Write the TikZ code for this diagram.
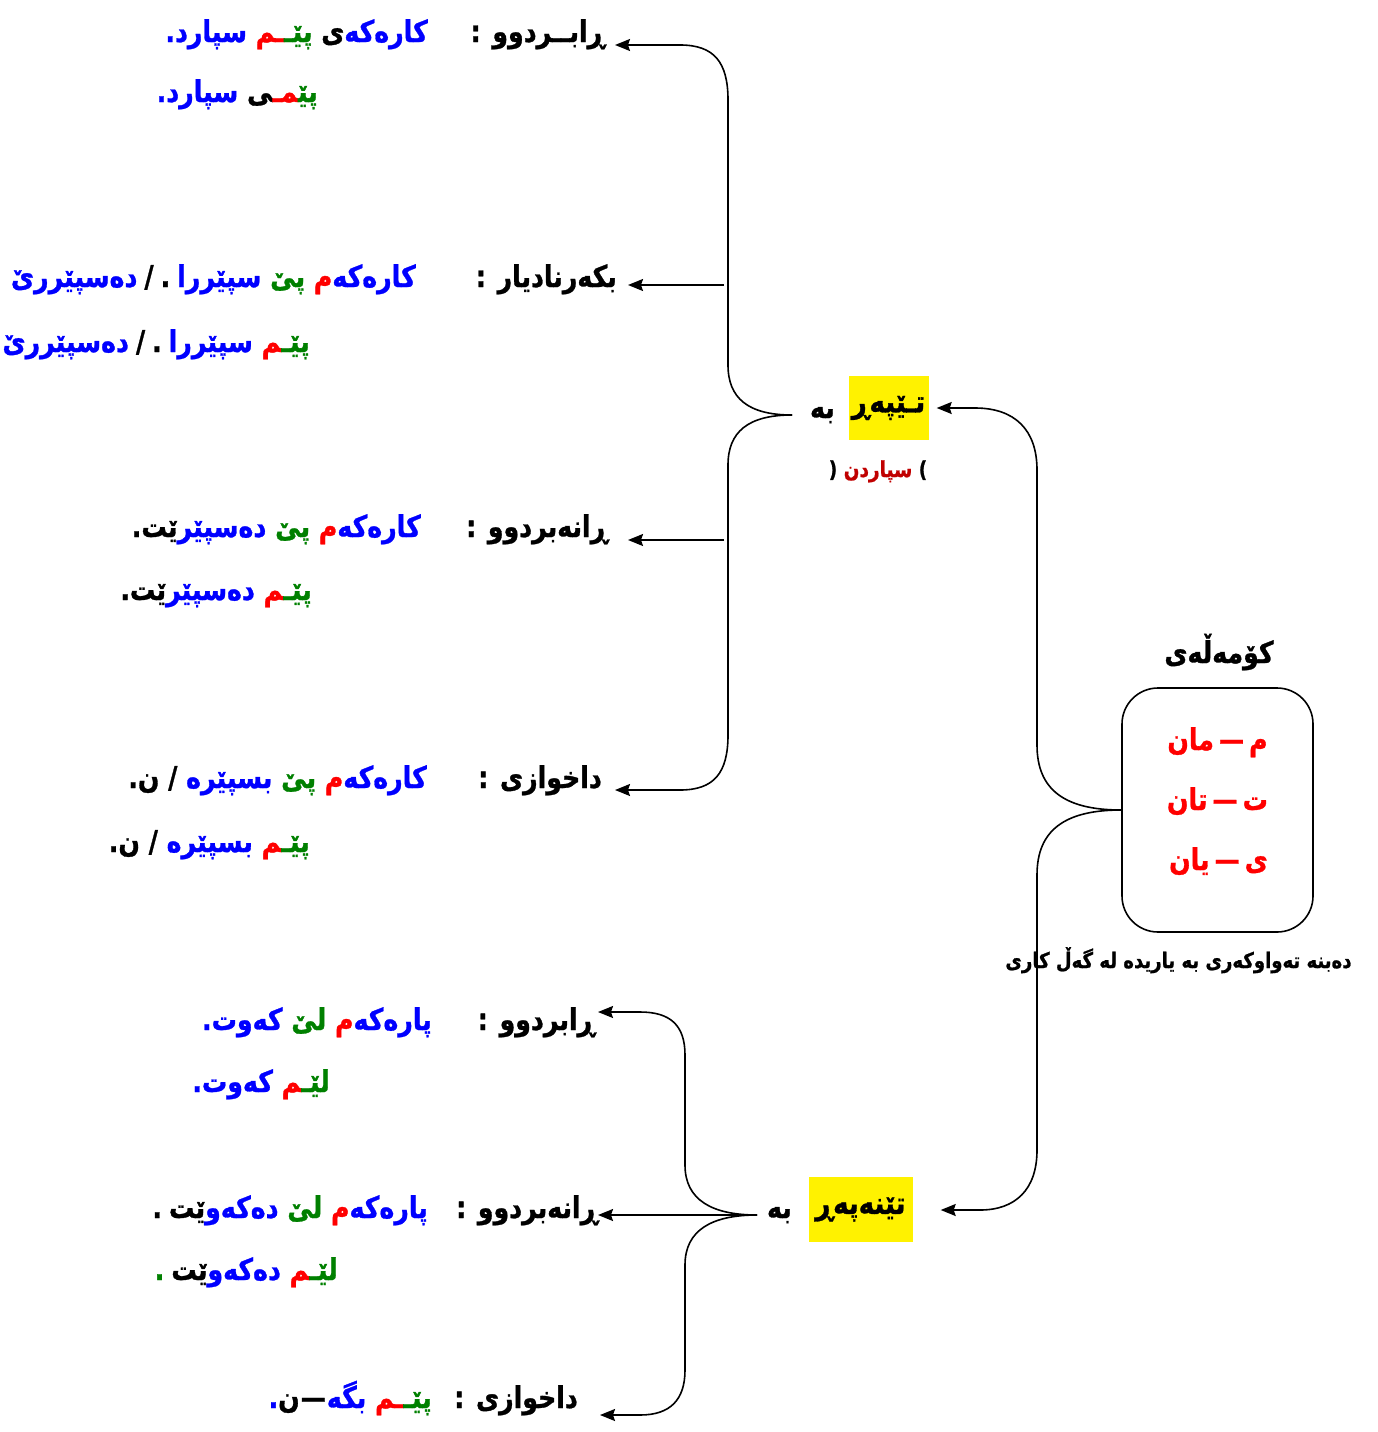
\documentclass[tikz,border=0pt]{standalone}
\usepackage{fontspec}
\usepackage{xcolor}
\usetikzlibrary{positioning,arrows.meta}
\newfontfamily\kur[Script=Arabic,FakeStretch=0.84,FakeBold=1]{DejaVu Sans}
\definecolor{kblue}{RGB}{0,0,255}
\definecolor{kgreen}{RGB}{0,128,0}
\definecolor{kred}{RGB}{255,0,0}
\definecolor{kdred}{RGB}{192,0,0}
\newcommand\Bl[1]{\textcolor{kblue}{#1}}
\newcommand\Gr[1]{\textcolor{kgreen}{#1}}
\newcommand\Rd[1]{\textcolor{kred}{#1}}
\newcommand\nq{.\kern0pt}
\newcommand\zj{^^^^200d}
\newcommand\sps{\hspace{7pt}}
\tikzset{
  lbl/.style={font=\kur\bfseries\fontsize{30}{32}\selectfont, anchor=base east, inner ysep=0pt},
  snt/.style={font=\kur\bfseries\fontsize{30}{32}\selectfont, anchor=base east, inner sep=0pt},
  hl/.style={fill=yellow, inner sep=0pt, font=\kur\bfseries\fontsize{31}{32}\selectfont},
  brc/.style={line width=1.6pt},
  arr/.style={line width=1.6pt, -{Stealth[inset=2pt,length=15pt,width=12pt]}},
}
\begin{document}
\begin{tikzpicture}[x=1pt,y=-1pt]
	\useasboundingbox (0,0) rectangle (1378,1432);
	% ripartizione superiore
	\node[hl, minimum width=80pt, minimum height=64pt] (vt) at (888.5,408) {تـێپەڕ};
	\node[snt] (beA) at (835,418) {بە};
	\node[font=\kur\bfseries\fontsize{22}{24}\selectfont, inner sep=0pt, anchor=base] (sp) at (878,477) {( \textcolor{kdred}{سپاردن} )};
	\node[lbl, inner xsep=10pt] (lab1) at (615,42) {: ڕابــردوو};
	\node[snt] (s1) at (428,42) {\Bl{\nq سپارد} \Rd{ـم}\Gr{پێـ} ی\Bl{کارەکە}};
	\node[snt] (s2) at (318,102) {\Bl{\nq سپارد} \zj ی\Rd{\zj مـ}\Gr{پێ\zj}};
	\node[lbl, inner xsep=11pt] (lab3) at (628,287) {: بکەرنادیار};
	\node[snt] (s3) at (416,287) {\Bl{دەسپێررێ}\sps/\sps.\sps\Bl{سپێررا} \Gr{پێ} \Rd{م}\Bl{کارەکە}};
	\node[snt] (s4) at (310,352) {\Bl{دەسپێررێ}\sps/\sps.\sps\Bl{سپێررا} \Rd{\zj م}\Gr{پێـ}};
	\node[lbl, inner xsep=20pt] (lab5) at (628,537) {: ڕانەبردوو};
	\node[snt] (s5) at (421,537) {\nq ێت\Bl{دەسپێر} \Gr{پێ} \Rd{م}\Bl{کارەکە}};
	\node[snt] (s6) at (312,600) {\nq ێت\Bl{دەسپێر} \Rd{\zj م}\Gr{پێـ}};
	\node[lbl, inner xsep=13pt] (lab7) at (615,788) {: داخوازی};
	\node[snt] (s7) at (427,788) {\nq ن / \Bl{بسپێرە} \Gr{پێ} \Rd{م}\Bl{کارەکە}};
	\node[snt] (s8) at (310,852) {\nq ن / \Bl{بسپێرە} \Rd{\zj م}\Gr{پێـ}};
	% ripartizione inferiore
	\node[hl, minimum width=104pt, minimum height=65pt] (vi) at (860.5,1209.5) {تێنەپەڕ};
	\node[snt] (beB) at (792,1218) {بە};
	\node[lbl, inner xsep=3pt] (lab9) at (598,1030) {: ڕابردوو};
	\node[snt] (s9) at (432,1030) {\Bl{\nq کەوت} \Gr{لێ} \Rd{م}\Bl{پارەکە}};
	\node[snt] (s10) at (330,1092) {\Bl{\nq کەوت} \Rd{\zj م}\Gr{لێـ}};
	\node[lbl, inner xsep=0pt] (lab11) at (598,1218) {: ڕانەبردوو};
	\node[snt] (s11) at (428,1218) {.\sps ێت\Bl{دەکەو} \Gr{لێ} \Rd{م}\Bl{پارەکە}};
	\node[snt] (s12) at (338,1280) {\Gr{.}\sps ێت\Bl{دەکەو} \Rd{\zj م}\Gr{لێـ}};
	\node[lbl, inner xsep=22pt] (lab13) at (600,1408) {: داخوازی};
	\node[snt] (s13) at (432,1408) {\Bl{.}ن\kern1pt—\kern1pt\Bl{بگە} \Rd{ـم}\Gr{پێـ}};
	% kۆمەڵەی
	\node[draw, line width=1.6pt, rounded corners=36pt, minimum width=191pt, minimum height=244pt] (box) at (1217.5,810) {};
	\node[snt, anchor=base] (ttl) at (1219,663) {کۆمەڵەی};
	\node[snt, anchor=base, text=kred] (m1) at (1217.5,750) {مان\,—\,م};
	\node[snt, anchor=base, text=kred] (m2) at (1217.5,810) {تان\,—\,ت};
	\node[snt, anchor=base, text=kred] (m3) at (1218.5,870) {یان\,—\,ی};
	% parentesi graffe
	\coordinate (tA) at (792,415);
	\coordinate (eA1) at (680,45);
	\coordinate (eA2) at (724,285);
	\coordinate (eA3) at (724,540);
	\coordinate (eA4) at (680,790);
	\draw[brc] (tA) .. controls (748,415) and (728,398) .. (728,365) -- (728,100) .. controls (728,62) and (714,45) .. (eA1);
	\draw[brc] (tA) .. controls (748,415) and (728,432) .. (728,465) -- (728,735) .. controls (728,773) and (714,790) .. (eA4);
	\draw[arr] (eA1) -- (eA1 -| lab1.east);
	\draw[arr] (eA2) -- (eA2 -| lab3.east);
	\draw[arr] (eA3) -- (eA3 -| lab5.east);
	\draw[arr] (eA4) -- (eA4 -| lab7.east);
	\coordinate (eB1) at (975,408);
	\coordinate (eB2) at (980,1210);
	\draw[brc] (box.west) .. controls (1065,810) and (1037,790) .. (1037,745) -- (1037,470) .. controls (1037,430) and (1015,408) .. (eB1);
	\draw[brc] (box.west) .. controls (1065,810) and (1037,830) .. (1037,875) -- (1037,1150) .. controls (1037,1190) and (1015,1210) .. (eB2);
	\draw[arr, shorten >=8pt] (eB1) -- (vt.east);
	\draw[arr, shorten >=28pt] (eB2) -- (vi.east |- eB2);
	\coordinate (tC) at (757,1215);
	\coordinate (eC1) at (640,1012);
	\coordinate (eC3) at (640,1415);
	\draw[brc] (tC) .. controls (712,1215) and (685,1200) .. (685,1165) -- (685,1055) .. controls (685,1025) and (670,1012) .. (eC1);
	\draw[brc] (tC) .. controls (712,1215) and (685,1230) .. (685,1265) -- (685,1370) .. controls (685,1400) and (670,1415) .. (eC3);
	\draw[arr] (eC1) -- (eC1 -| lab9.east);
	\draw[arr] (tC) -- (tC -| lab11.east);
	\draw[arr] (eC3) -- (eC3 -| lab13.east);
	% didascalia
	\node[font=\kur\bfseries\fontsize{21.5}{24}\selectfont, inner sep=0pt, anchor=base] (cap) at (1178.5,968) {کاری گەڵ لە یاریدە بە تەواوکەری دەبنە};
\end{tikzpicture}
\end{document}
